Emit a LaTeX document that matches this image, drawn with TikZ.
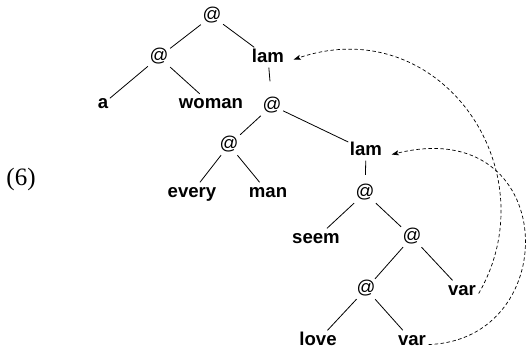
\documentclass[tikz,border=0pt]{standalone}
\usepackage{fontspec}
\setmainfont{Liberation Serif}
\newfontfamily\hv{Liberation Sans}
\usetikzlibrary{arrows.meta}
\begin{document}
\begin{tikzpicture}[x=1pt,y=-1pt,
  lbl/.style={font=\hv\fontsize{18.6}{20}\selectfont\bfseries, inner sep=1.5pt, text height=13pt, text depth=4pt},
  apnode/.style={font=\hv\fontsize{18.6}{20}\selectfont, inner sep=1.5pt, text height=13pt, text depth=4pt},
  edge/.style={line width=0.8pt},
  link/.style={line width=0.7pt, dash pattern=on 3.5pt off 2.5pt, -{Stealth[length=7pt,width=5pt,inset=1.5pt]}}]
\useasboundingbox (0,0) rectangle (526,354);
\node[font=\fontsize{25}{28}\selectfont] (ex) at (21,179) {(6)};
\node[apnode] (a0) at (212,16) {@};
\node[apnode] (aL) at (159,57) {@};
\node[lbl] (lam1) at (268,57.5) {lam};
\node[lbl] (na) at (103,104) {a};
\node[lbl] (woman) at (211,104) {woman};
\node[apnode] (a1) at (272,105.5) {@};
\node[apnode] (a2) at (229,145) {@};
\node[lbl] (every) at (192,192.5) {every};
\node[lbl] (man) at (268,192.5) {man};
\node[lbl] (lam2) at (366,150.5) {lam};
\node[apnode] (a3) at (365,193) {@};
\node[lbl] (seem) at (316,238.5) {seem};
\node[apnode] (a4) at (412,237) {@};
\node[lbl] (var1) at (462,290.5) {var};
\node[apnode] (a5) at (366,289) {@};
\node[lbl] (love) at (318,340.5) {love};
\node[lbl] (var2) at (412,340.5) {var};
\draw[edge] (a0) -- (aL);
\draw[edge] (a0) -- (lam1);
\draw[edge] (aL) -- (na);
\draw[edge] (aL) -- (woman);
\draw[edge, shorten >=14pt] (lam1) -- (a1);
\draw[edge] (a1) -- (a2);
\draw[edge] (a1) -- (lam2);
\draw[edge] (a2) -- (every);
\draw[edge] (a2) -- (man);
\draw[edge, shorten >=8pt] (lam2) -- (a3);
\draw[edge] (a3) -- (seem);
\draw[edge] (a3) -- (a4);
\draw[edge] (a4) -- (a5);
\draw[edge] (a4) -- (var1);
\draw[edge] (a5) -- (love);
\draw[edge] (a5) -- (var2);
\coordinate (t1) at ([xshift=8pt,yshift=-2pt]lam1.east);
\coordinate (t2) at ([xshift=8pt,yshift=-4pt]lam2.east);
\draw[link] ([xshift=1pt,yshift=-3pt]var1.east) .. controls (550,170) and (440,10) .. (t1);
\draw[link] ([xshift=1pt,yshift=-4pt]var2.east) .. controls (565,340) and (560,113) .. (t2);
\end{tikzpicture}
\end{document}
